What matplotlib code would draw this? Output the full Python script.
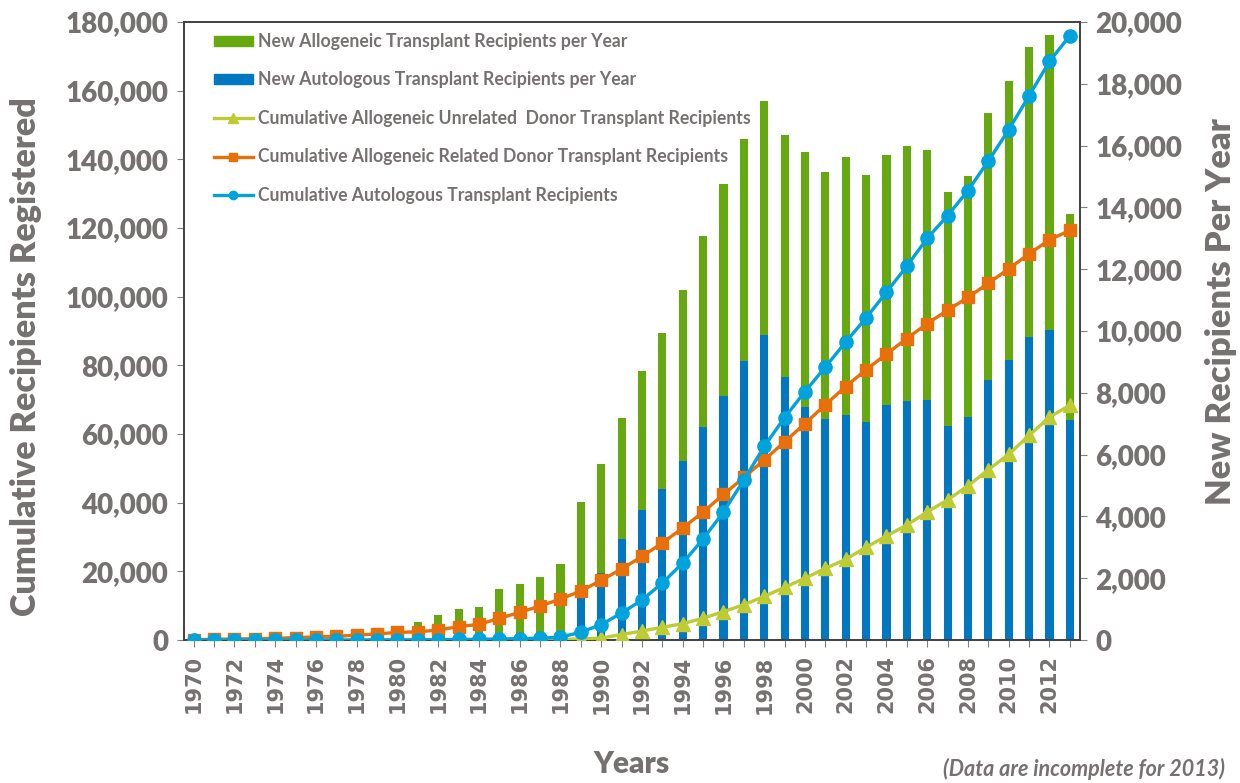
import numpy as np
import matplotlib
matplotlib.use("Agg")
import matplotlib.pyplot as plt
from matplotlib.patches import Patch
from matplotlib.lines import Line2D

# ---- data ----
years = list(range(1970, 2014))

# new recipients per year (right axis)
new_autologous = [0, 0, 0, 0, 0, 0, 0, 0, 5, 10, 20,
                  30, 40, 50, 60, 80, 100, 150, 250, 1400, 2170,
                  3270, 4200, 4890, 5800, 6890, 7900, 9030, 9870, 8510, 7540,
                  7150, 7280, 7050, 7620, 7720, 7770, 6920, 7220, 8410, 9060,
                  9820, 10020, 7120]
new_allogeneic = [80, 100, 120, 140, 160, 180, 200, 230, 280, 330, 380,
                  550, 770, 950, 1010, 1570, 1710, 1890, 2210, 3070, 3530,
                  3910, 4500, 5040, 5530, 6190, 6860, 7180, 7570, 7830, 8250,
                  7990, 8350, 8000, 8080, 8270, 8090, 7580, 7800, 8650, 9040,
                  9370, 9560, 6680]

# cumulative recipients (left axis)
cum_unrelated = [0, 0, 0, 0, 0, 0, 0, 0, 0, 0, 0,
                 0, 0, 0, 0, 20, 50, 100, 200, 300, 580,
                 1600, 2620, 3700, 4780, 6350, 8270, 10280, 12700, 15350, 18000,
                 20850, 23500, 27000, 30300, 33500, 37300, 40800, 44900, 49600, 54100,
                 59600, 64900, 68400]
cum_related = [100, 200, 300, 400, 500, 700, 900, 1100, 1400, 1800, 2200,
               2400, 2900, 3900, 4560, 6310, 8060, 9900, 11940, 14270, 17400,
               20680, 24350, 28250, 32620, 37280, 42380, 47330, 52430, 57730, 63030,
               68530, 73830, 78700, 83300, 87800, 92150, 96030, 99790, 103900, 108100,
               112450, 116560, 119270]
cum_autologous = [0, 0, 0, 0, 0, 0, 0, 0, 5, 15, 35,
                  65, 105, 155, 215, 295, 395, 545, 800, 2300, 4500,
                  7860, 11650, 16600, 22430, 29420, 37280, 46600, 56360, 64800, 72350,
                  79500, 86800, 93800, 101300, 108900, 117000, 123600, 130900, 139500, 148600,
                  158500, 168500, 176000]

# ---- style ----
gray = "#767171"
c_allo = "#66A80F"
c_auto = "#0077C0"
c_unrel = "#BFCB32"
c_rel = "#E8700A"
c_autoline = "#00A3DB"
font = "Lato"

fig = plt.figure(figsize=(12.4, 7.83), dpi=100)
ax = fig.add_axes([0.148, 0.1826, 0.723, 0.7894])
ax2 = ax.twinx()

x = np.arange(len(years))
bw = 0.4

# bars on the right axis
ax2.bar(x, new_autologous, width=bw, color=c_auto, zorder=2)
ax2.bar(x, new_allogeneic, width=bw, bottom=new_autologous, color=c_allo, zorder=2)

# lines on the left axis, drawn above the bars
ax.set_zorder(ax2.get_zorder() + 1)
ax.patch.set_visible(False)
ax.plot(x, cum_unrelated, color=c_unrel, lw=2.4, marker="^", ms=10, zorder=3)
ax.plot(x, cum_related, color=c_rel, lw=2.4, marker="s", ms=9, zorder=4)
ax.plot(x, cum_autologous, color=c_autoline, lw=2.4, marker="o", ms=9.5, zorder=5)

ax.set_xlim(-0.5, len(years) - 0.5)
ax.set_ylim(0, 180000)
ax2.set_ylim(0, 20000)

ax.set_yticks(np.arange(0, 180001, 20000))
ax.set_yticklabels([f"{v:,}" for v in range(0, 180001, 20000)])
ax2.set_yticks(np.arange(0, 20001, 2000))
ax2.set_yticklabels([f"{v:,}" for v in range(0, 20001, 2000)])

ax.set_xticks(x)
ax.set_xticklabels([str(y) if y % 2 == 0 else "" for y in years], rotation=90,
                   fontsize=15, fontweight="bold", color=gray, family="DejaVu Sans")

for a in (ax, ax2):
    for s in a.spines.values():
        s.set_color("#404040")
        s.set_linewidth(1.2)
ax.tick_params(axis="y", labelsize=20, labelcolor=gray, length=5, color="#808080", pad=6)
ax2.tick_params(axis="y", labelsize=20, labelcolor=gray, length=5, color="#808080", pad=6)
ax.tick_params(axis="x", length=5, color="#808080", pad=6)
for lab in ax.get_yticklabels() + ax2.get_yticklabels():
    lab.set_fontweight("heavy")
    lab.set_family(font)

ax.set_ylabel("Cumulative Recipients Registered", fontsize=24.6, fontweight="heavy",
              color=gray, family=font)
ax2.set_ylabel("New Recipients Per Year", fontsize=24.8, fontweight="heavy",
               color=gray, family=font)
ax.yaxis.set_label_coords(-0.158, 0.458)
ax2.yaxis.set_label_coords(1.139, 0.532)
ax.set_xlabel("Years", fontsize=21.5, fontweight="heavy", color=gray, family=font, labelpad=26)

fig.text(0.988, 0.004, "(Data are incomplete for 2013)", ha="right", va="bottom",
         fontsize=15.5, fontweight="bold", style="italic", color=gray, family=font)

handles = [
    Patch(color=c_allo),
    Patch(color=c_auto),
    Line2D([], [], color=c_unrel, lw=2.4, marker="^", ms=7),
    Line2D([], [], color=c_rel, lw=2.4, marker="s", ms=6),
    Line2D([], [], color=c_autoline, lw=2.4, marker="o", ms=6),
]
labels = [
    "New Allogeneic Transplant Recipients per Year",
    "New Autologous Transplant Recipients per Year",
    "Cumulative Allogeneic Unrelated  Donor Transplant Recipients",
    "Cumulative Allogeneic Related Donor Transplant Recipients",
    "Cumulative Autologous Transplant Recipients",
]
leg = ax.legend(handles, labels, loc="upper left", bbox_to_anchor=(0.016, 1.008),
                frameon=False, handlelength=2.2, handleheight=0.5, handletextpad=0.3,
                labelspacing=1.22, prop={"family": font, "size": 12.7, "weight": "bold"})
for t in leg.get_texts():
    t.set_color(gray)

fig.savefig("out.png", dpi=100)
